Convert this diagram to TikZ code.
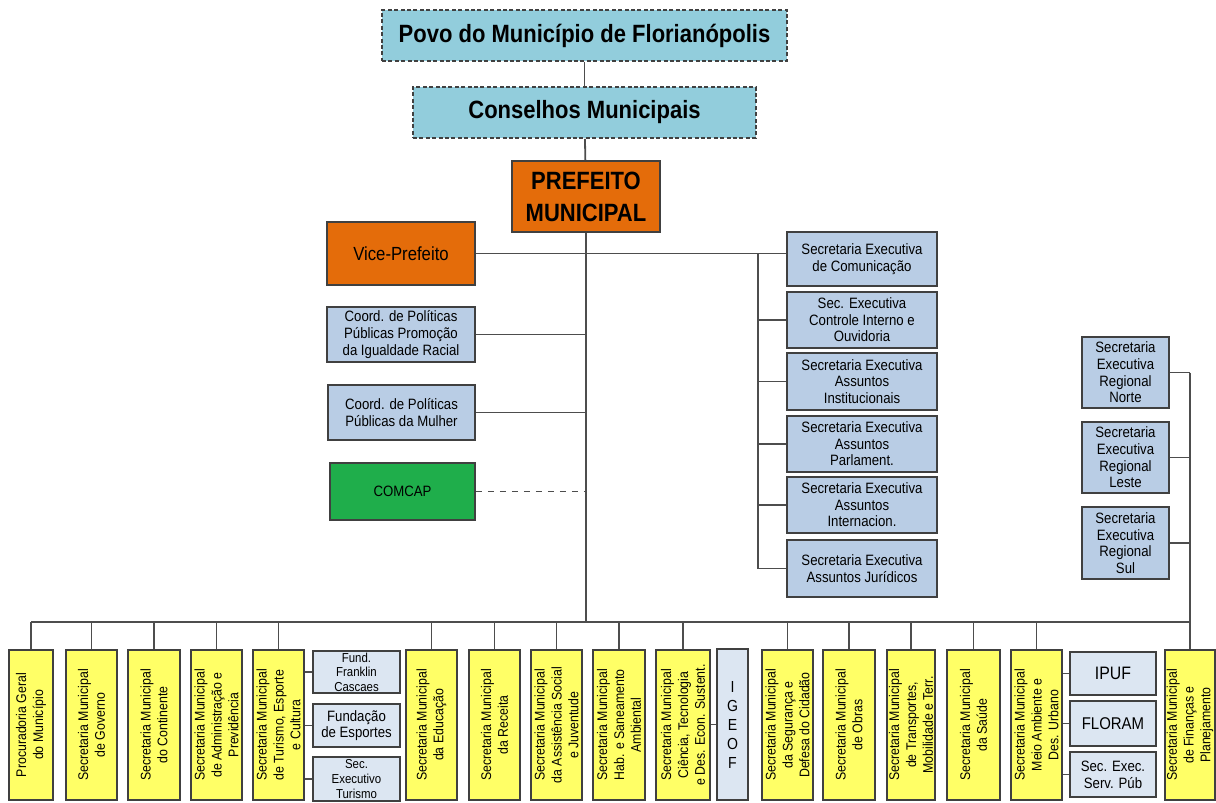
\documentclass[tikz,border=0pt]{standalone}
\usepackage{fontspec}
\setmainfont{Liberation Sans}
\newfontfamily\condfont[FakeStretch=0.88]{Liberation Sans}
\definecolor{povocol}{HTML}{92CDDC}
\definecolor{prefcol}{HTML}{E46C0A}
\definecolor{secblue}{HTML}{B9CDE5}
\definecolor{lightblue}{HTML}{DCE6F2}
\definecolor{comcapcol}{HTML}{1FAE4B}
\definecolor{yellowcol}{HTML}{FFFF66}
\definecolor{boxline}{HTML}{404040}
\definecolor{linecol}{HTML}{4D4D4D}
\begin{document}
\begin{tikzpicture}[x=0.5pt,y=-0.5pt,
  sz/.style 2 args={minimum width=#1*0.5pt,minimum height=#2*0.5pt},
  box/.style={draw=boxline,line width=0.8pt,inner sep=0pt,align=center,
    font=\condfont\fontsize{7.5}{8.3}\selectfont},
  topbox/.style={box,fill=povocol,dash pattern=on 2pt off 1.2pt,
    font=\condfont\bfseries\fontsize{12.5}{16}\selectfont},
  orangebox/.style={box,fill=prefcol},
  bluebox/.style={box,fill=secblue},
  lightbox/.style={box,fill=lightblue},
  ybox/.style={box,fill=yellowcol,rotate=90,font=\condfont\fontsize{7}{8.4}\selectfont},
  conn/.style={draw=linecol,line width=0.9pt}]
  \useasboundingbox (0,0) rectangle (1216,803);
  % Top of the chart
  \node[topbox,sz={405}{51}] (povo) at (584.5,35.5) {Povo do Município de Florianópolis};
  \node[topbox,sz={343}{51}] (cons) at (584.5,112.5) {Conselhos Municipais};
  \node[orangebox,sz={148}{71},font=\condfont\bfseries\fontsize{12.5}{16}\selectfont] (pref) at (586,196.5) {PREFEITO\\MUNICIPAL};
  \coordinate (bus) at (586,622);
  % Left column
  \node[orangebox,sz={148}{63},font=\condfont\fontsize{9.5}{11}\selectfont] (vice) at (401,253.5) {Vice-Prefeito};
  \node[bluebox,sz={148}{55}] (igual) at (401,334.5) {Coord. de Políticas\\Públicas Promoção\\da Igualdade Racial};
  \node[bluebox,sz={147}{55}] (mulher) at (401.5,412.5) {Coord. de Políticas\\Públicas da Mulher};
  \node[box,fill=comcapcol,sz={145}{57}] (comcap) at (402.5,491.5) {COMCAP};
  % Right column
  \node[bluebox,sz={150}{54}] (comm) at (862,259) {Secretaria Executiva\\de Comunicação};
  \node[bluebox,sz={150}{56}] (ctrl) at (862,320) {Sec. Executiva\\Controle Interno e\\Ouvidoria};
  \node[bluebox,sz={150}{57}] (inst) at (862,381.5) {Secretaria Executiva\\Assuntos\\Institucionais};
  \node[bluebox,sz={150}{56}] (parl) at (862,444) {Secretaria Executiva\\Assuntos\\Parlament.};
  \node[bluebox,sz={150}{56}] (intl) at (862,505) {Secretaria Executiva\\Assuntos\\Internacion.};
  \node[bluebox,sz={150}{57}] (jur) at (862,568.5) {Secretaria Executiva\\Assuntos Jurídicos};
  \coordinate (rv) at (758,253.5);
  % Regional secretaries
  \node[bluebox,sz={87}{71}] (norte) at (1125.5,372.5) {Secretaria\\Executiva\\Regional\\Norte};
  \node[bluebox,sz={87}{71}] (leste) at (1125.5,457.5) {Secretaria\\Executiva\\Regional\\Leste};
  \node[bluebox,sz={87}{72}] (sul) at (1125.5,543) {Secretaria\\Executiva\\Regional\\Sul};
  % Bottom row
  \node[ybox,sz={150}{44}] (proc) at (31,725) {Procuradoria Geral\\do Município};
  \node[ybox,sz={150}{51}] (gov) at (91.5,725) {Secretaria Municipal\\de Governo};
  \node[ybox,sz={150}{52}] (cont) at (154,725) {Secretaria Municipal\\do Continente};
  \node[ybox,sz={150}{51}] (adm) at (216.5,725) {Secretaria Municipal\\de Administração e\\Previdência};
  \node[ybox,sz={150}{51}] (tur) at (278.5,725) {Secretaria Municipal\\de Turismo, Esporte\\e Cultura};
  \node[lightbox,sz={87}{42},font=\condfont\fontsize{6.5}{7.2}\selectfont] (fund) at (356.5,672) {Fund.\\Franklin\\Cascaes};
  \node[lightbox,sz={87}{43}] (fesp) at (356.5,725.5) {Fundação\\de Esportes};
  \node[lightbox,sz={87}{44},font=\condfont\fontsize{6.5}{7.4}\selectfont] (setur) at (356.5,779) {Sec.\\Executivo\\Turismo};
  \node[ybox,sz={150}{51}] (edu) at (431.5,725) {Secretaria Municipal\\da Educação};
  \node[ybox,sz={150}{51}] (rec) at (494.5,725) {Secretaria Municipal\\da Receita};
  \node[ybox,sz={150}{51}] (assist) at (556.5,725) {Secretaria Municipal\\da Assistência Social\\e Juventude};
  \node[ybox,sz={150}{52}] (hab) at (619,725) {Secretaria Municipal\\Hab. e Saneamento\\Ambiental};
  \node[ybox,sz={150}{54}] (cien) at (683,725) {Secretaria Municipal\\Ciência, Tecnologia\\e Des. Econ. Sustent.};
  \node[lightbox,sz={31}{151},font=\condfont\fontsize{8}{9.5}\selectfont] (igeof) at (732.5,724.5) {I\\G\\E\\O\\F};
  \node[ybox,sz={150}{51}] (seg) at (787.5,725) {Secretaria Municipal\\da Segurança e\\Defesa do Cidadão};
  \node[ybox,sz={150}{52}] (obras) at (849,725) {Secretaria Municipal\\de Obras};
  \node[ybox,sz={150}{48}] (transp) at (911,725) {Secretaria Municipal\\de Transportes,\\Mobilidade e Terr.};
  \node[ybox,sz={150}{53}] (saude) at (973.5,725) {Secretaria Municipal\\da Saúde};
  \node[ybox,sz={150}{51}] (meio) at (1036.5,725) {Secretaria Municipal\\Meio Ambiente e\\Des. Urbano};
  \node[lightbox,sz={86}{43},font=\condfont\fontsize{9}{10}\selectfont] (ipuf) at (1113,673.5) {IPUF};
  \node[lightbox,sz={86}{45},font=\condfont\fontsize{8.5}{10}\selectfont] (floram) at (1113,723.5) {FLORAM};
  \node[lightbox,sz={86}{45},font=\condfont\fontsize{7.5}{8.5}\selectfont] (serv) at (1113,774.5) {Sec. Exec.\\Serv. Púb};
  \node[ybox,sz={150}{50}] (fin) at (1190,725) {Secretaria Municipal\\de Finanças e\\Planejamento};
  % Connectors
  \draw[conn] (povo) -- (cons);
  \draw[conn] (cons) -- (pref);
  \draw[conn] (pref.south) -- (bus);
  \draw[conn] (vice.east) -- (vice.east -| comm.west);
  \draw[conn] (rv) -- (rv |- jur.west);
  \foreach \n in {ctrl,inst,parl,intl,jur}
    \draw[conn] (rv |- \n.west) -- (\n.west);
  \draw[conn] (igual.east) -- (igual.east -| bus);
  \draw[conn] (mulher.east) -- (mulher.east -| bus);
  \draw[conn,dashed] (comcap.east) -- (comcap.east -| bus);
  \draw[conn] (norte.east -| fin.east) -- (fin.east);
  \foreach \n in {norte,leste,sul}
    \draw[conn] (\n.east) -- (\n.east -| fin.east);
  \draw[conn] (bus -| proc.east) -- (bus -| fin.east);
  \foreach \n in {proc,gov,cont,adm,tur,edu,rec,assist,hab,cien,seg,obras,transp,saude,meio}
    \draw[conn] (\n.east) -- (\n.east |- bus);
  \foreach \n in {fund,fesp,setur}
    \draw[conn] (\n.west) -- (\n.west -| tur.south);
  \draw[conn] (igeof.west) -- (igeof.west -| cien.south);
  \foreach \n in {ipuf,floram,serv}
    \draw[conn] (\n.west) -- (\n.west -| meio.south);
\end{tikzpicture}
\end{document}
